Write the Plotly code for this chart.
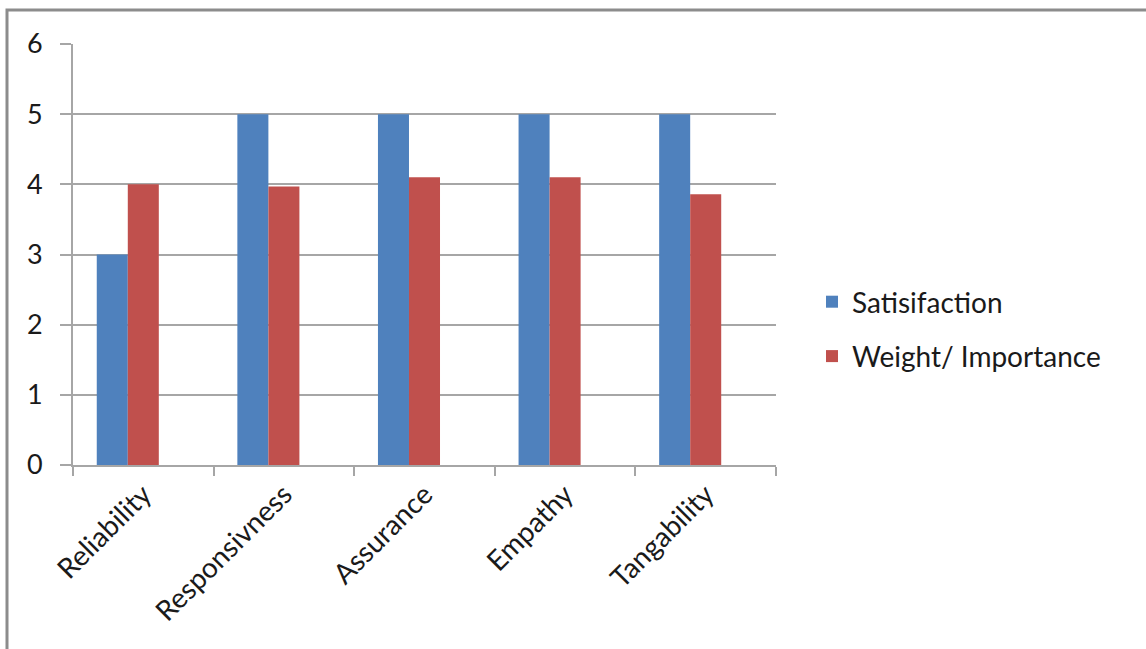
import plotly.graph_objects as go

categories = ["Reliability", "Responsivness", "Assurance", "Empathy", "Tangability"]
satisfaction = [3, 5, 5, 5, 5]
weight = [4.0, 3.97, 4.1, 4.1, 3.86]
y_ticks = [0, 1, 2, 3, 4, 5, 6]

W, H = 1146, 649
L, R, T, B = 73, 370, 44, 184
pw, ph = W - L - R, H - T - B

font = "Lato, 'Open Sans', sans-serif"
grid = "#a6a6a6"

fig = go.Figure()
fig.add_bar(x=categories, y=satisfaction, name="Satisifaction", marker_color="#4F81BD",
            marker_line_width=0, legendgroup="a")
fig.add_bar(x=categories, y=weight, name="Weight/ Importance", marker_color="#C0504D",
            marker_line_width=0, legendgroup="b")
fig.add_bar(x=categories, y=[None] * len(categories), name="", showlegend=False,
            marker_color="rgba(0,0,0,0)", legendgroup="c")

# outer frame
fig.add_shape(type="rect", xref="paper", yref="paper",
              x0=(7 - L) / pw, x1=(W + 20 - L) / pw,
              y0=-(H + 20 - T - ph) / ph, y1=1 + (T - 10) / ph,
              line=dict(color="#8c8c8c", width=3), fillcolor="rgba(0,0,0,0)", layer="below")

fig.update_layout(
    width=W, height=H,
    margin=dict(l=L, r=R, t=T, b=B, pad=0),
    paper_bgcolor="white", plot_bgcolor="white",
    barmode="group", bargap=0.338, bargroupgap=0,
    font=dict(family=font, size=26, color="#1a1a1a"),
    showlegend=True,
    legend=dict(x=(812 - L) / pw, y=1 - (277 - T) / ph, xanchor="left", yanchor="top",
                font=dict(size=28, family=font), itemsizing="constant",
                tracegroupgap=15, traceorder="grouped", itemwidth=30, bgcolor="rgba(0,0,0,0)"),
    xaxis=dict(type="category", showgrid=False, showline=True, linecolor=grid, linewidth=2,
               ticks="outside", tickson="boundaries", ticklen=9, tickcolor=grid, tickwidth=2,
               tickangle=-45, tickfont=dict(size=28), range=[-0.5, 4.5]),
    yaxis=dict(range=[0, 6], tickvals=y_ticks, showgrid=True, gridcolor=grid, gridwidth=2,
               showline=True, linecolor=grid, linewidth=2, ticks="outside", ticklen=11,
               tickcolor=grid, tickwidth=2, zeroline=False, tickfont=dict(size=27),
               ticklabelstandoff=12),
)
fig.write_html("out.html")
